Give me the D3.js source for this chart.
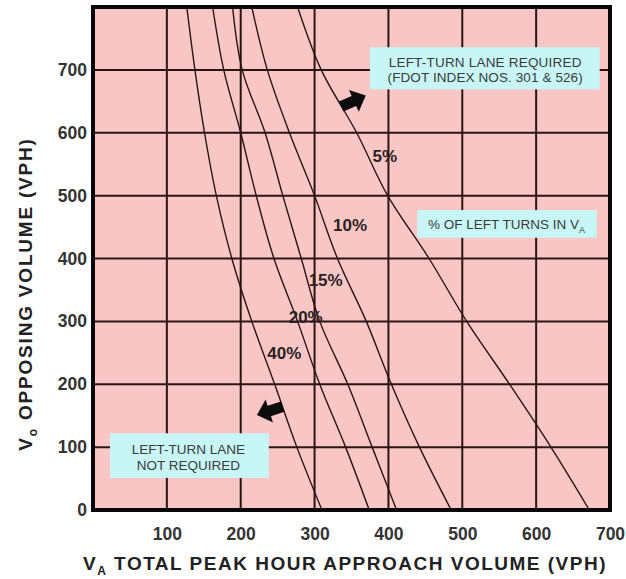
<!DOCTYPE html>
<html>
<head>
<meta charset="utf-8">
<script src="https://cdn.jsdelivr.net/npm/d3@7"></script>
<style>
  html, body { margin: 0; padding: 0; background: #ffffff; }
  svg { display: block; font-family: "Liberation Sans", Arial, sans-serif; }
</style>
</head>
<body>
<svg id="chart" width="626" height="579"></svg>
<script>
// Opposing volume levels (VPH) at which each curve is sampled
const opposingLevels = [800, 700, 600, 500, 400, 300, 200, 100, 0];

// Approach volume (VPH) on each curve at the opposing levels above
const pct5  = [277, 309, 357, 399, 455, 506, 564, 620, 672];
const pct10 = [215, 236, 266, 300, 331, 370, 404, 442, 485];
const pct15 = [189, 202, 233, 257, 282, 307, 345, 378, 411];
const pct20 = [162, 177, 200, 221, 245, 277, 307, 342, 374];
const pct40 = [127, 138, 151, 167, 188, 215, 246, 276, 310];

const curveNames = ["5%", "10%", "15%", "20%", "40%"];
const curveValues = [pct5, pct10, pct15, pct20, pct40];

// Axis ticks
const xTicks = [100, 200, 300, 400, 500, 600, 700];
const yTicks = [0, 100, 200, 300, 400, 500, 600, 700];
const xGrid = [100, 200, 300, 400, 500, 600];
const yGrid = [100, 200, 300, 400, 500, 600, 700];

const svg = d3.select("#chart");
const margin = { left: 93, top: 7, right: 16, bottom: 69 };
const W = 626, H = 579;

const x = d3.scaleLinear().domain([0, 700]).range([margin.left, W - margin.right]);
const y = d3.scaleLinear().domain([0, 800]).range([H - margin.bottom, margin.top]);

const INK = "#2b1414";

// plot background
svg.append("rect")
  .attr("x", x(0)).attr("y", y(800))
  .attr("width", x(700) - x(0)).attr("height", y(0) - y(800))
  .attr("fill", "#f9c6c6");

svg.append("clipPath").attr("id", "plotClip")
  .append("rect")
  .attr("x", x(0)).attr("y", y(800))
  .attr("width", x(700) - x(0)).attr("height", y(0) - y(800));

// grid
const grid = svg.append("g").attr("stroke", INK).attr("stroke-width", 2);
grid.selectAll("line.v").data(xGrid).join("line").attr("class", "v")
  .attr("x1", d => x(d)).attr("x2", d => x(d))
  .attr("y1", y(800)).attr("y2", y(0));
grid.selectAll("line.h").data(yGrid).join("line").attr("class", "h")
  .attr("x1", x(0)).attr("x2", x(700))
  .attr("y1", d => y(d)).attr("y2", d => y(d));

// curves of constant left-turn percentage
const line = d3.line()
  .x(d => x(d[0])).y(d => y(d[1]))
  .curve(d3.curveCatmullRom.alpha(0.5));

const curves = svg.append("g").attr("clip-path", "url(#plotClip)");
curveValues.forEach(vals => {
  const pts = vals.map((v, i) => [v, opposingLevels[i]]);
  curves.append("path")
    .attr("d", line(pts))
    .attr("fill", "none")
    .attr("stroke", INK)
    .attr("stroke-width", 1.4);
});

// info boxes (rectangles first, text on top)
const boxLayer = svg.append("g");
const boxText = svg.append("g")
  .attr("fill", "#3a3a3a")
  .attr("font-size", 13.5)
  .attr("text-anchor", "middle");

function infoBox(x0, x1, y0, y1) {
  boxLayer.append("rect")
    .attr("x", x(x0)).attr("y", y(y0))
    .attr("width", x(x1) - x(x0)).attr("height", y(y1) - y(y0))
    .attr("fill", "#c8f6f6");
}

infoBox(375, 686, 736, 669);
boxText.append("text").attr("x", x(531)).attr("y", y(704))
  .attr("letter-spacing", 0.2).text("LEFT-TURN LANE REQUIRED");
boxText.append("text").attr("x", x(531)).attr("y", y(681))
  .attr("letter-spacing", 0.1).text("(FDOT INDEX NOS. 301 & 526)");

infoBox(439, 682, 477, 433);
const pctText = boxText.append("text").attr("x", x(560)).attr("y", y(447));
pctText.append("tspan").text("% OF LEFT TURNS IN V");
pctText.append("tspan").attr("font-size", 9).attr("dy", 4).text("A");

infoBox(23, 238, 122, 51);
boxText.append("text").attr("x", x(129)).attr("y", y(89)).text("LEFT-TURN LANE");
boxText.append("text").attr("x", x(129)).attr("y", y(63)).text("NOT REQUIRED");

// curve labels
const labelSpots = [[395, 563], [348, 453], [315, 366], [288, 307], [259, 250]];
svg.append("g")
  .attr("font-size", 17).attr("font-weight", "bold").attr("fill", "#2a2222")
  .attr("text-anchor", "middle")
  .selectAll("text").data(curveNames).join("text")
  .attr("x", (d, i) => x(labelSpots[i][0]))
  .attr("y", (d, i) => y(labelSpots[i][1]))
  .attr("dy", "0.36em")
  .text(d => d);

// block arrows
function blockArrow(cx, cy, angle) {
  const p = [[-13, -5.5], [1, -5.5], [1, -12], [14, 0], [1, 12], [1, 5.5], [-13, 5.5]];
  svg.append("path")
    .attr("d", "M" + p.map(q => q.join(",")).join("L") + "Z")
    .attr("transform", `translate(${x(cx)},${y(cy)}) rotate(${angle})`)
    .attr("fill", "#0c0c0c");
}
blockArrow(352, 650, -24);
blockArrow(240, 158, 162);

// frame
svg.append("rect")
  .attr("x", x(0)).attr("y", y(800))
  .attr("width", x(700) - x(0)).attr("height", y(0) - y(800))
  .attr("fill", "none").attr("stroke", "#080808").attr("stroke-width", 4);

// axes
const yAxis = svg.append("g")
  .attr("transform", `translate(${x(0)},0)`)
  .call(d3.axisLeft(y).tickValues(yTicks).tickSize(0).tickPadding(6));
const xAxis = svg.append("g")
  .attr("transform", `translate(0,${y(0)})`)
  .call(d3.axisBottom(x).tickValues(xTicks).tickSize(0).tickPadding(18));
[yAxis, xAxis].forEach(a => {
  a.select(".domain").remove();
  a.selectAll("text")
    .attr("font-family", "Liberation Sans, Arial, sans-serif")
    .attr("font-size", 17.5).attr("font-weight", "bold").attr("fill", "#333");
});

// axis titles
const xTitle = svg.append("text")
  .attr("x", 345).attr("y", 570)
  .attr("text-anchor", "middle")
  .attr("font-size", 19).attr("font-weight", "bold").attr("fill", "#222")
  .attr("letter-spacing", 1.5);
xTitle.append("tspan").text("V");
xTitle.append("tspan").attr("font-size", 12).attr("dy", 5).text("A");
xTitle.append("tspan").attr("dy", -5).text(" TOTAL PEAK HOUR APPROACH VOLUME (VPH)");

const yTitle = svg.append("text")
  .attr("transform", "translate(32,294) rotate(-90)")
  .attr("text-anchor", "middle")
  .attr("font-size", 19).attr("font-weight", "bold").attr("fill", "#222")
  .attr("letter-spacing", 1.8);
yTitle.append("tspan").text("V");
yTitle.append("tspan").attr("font-size", 12).attr("dy", 5).text("o");
yTitle.append("tspan").attr("dy", -5).text(" OPPOSING VOLUME (VPH)");
</script>
</body>
</html>
